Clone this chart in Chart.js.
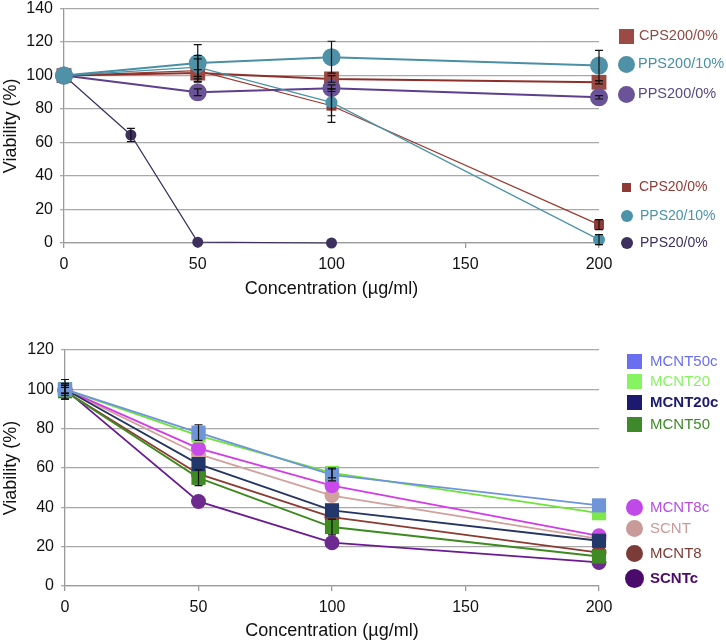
<!DOCTYPE html>
<html>
<head>
<meta charset="utf-8">
<script src="https://cdn.jsdelivr.net/npm/chart.js@4"></script>
<style>
	body { margin: 0; background: #fff; font-family: 'Liberation Sans', Arial, sans-serif; }
	#page { position: relative; width: 726px; height: 642px; overflow: hidden; }
	.panel { position: absolute; left: 0; width: 726px; }
	.leg { position: absolute; white-space: nowrap; line-height: 1; }
	.leg i { position: absolute; display: block; }
</style>
</head>
<body>
<div id="page">
	<div class="panel" style="top:-8px;height:308px"><canvas id="top"></canvas></div>
	<div class="panel" style="top:315px;height:327px"><canvas id="bottom"></canvas></div>
	<div id="legends"></div>
</div>
<script>
// --- top panel data ---
const concTop = [0, 50, 100, 200]
const concPPS20 = [0, 25, 50, 100]
const cps200_0 = [100, 101.5, 98, 96]
const pps200_10 = [100, 107.5, 111, 106]
const pps200_0 = [100, 90, 92.5, 87]
const cps20_0 = [100, 103, 82, 11]
const pps20_10 = [100, 105, 84, 2]
const pps20_0 = [100, 64.5, 0.5, 0]
const errCps200 = [0, 2, 2, 1]
const errPps200_10 = [0, 11, 9.5, 9]
const errPps200_0 = [0, 2, 2, 1]
const errCps20 = [0, 7, 10, 3]
const errPps20_10 = [0, 7, 8, 3]
const errPps20_0 = [0, 4, 0, 0]
const ticksTop = [0, 20, 40, 60, 80, 100, 120, 140]

// --- bottom panel data ---
const concBottom = [0, 50, 100, 200]
const mcnt50c = [100, 78, 56.5, 41]
const mcnt20 = [100, 76.5, 57.5, 37]
const mcnt20c = [100, 62, 38.5, 23]
const mcnt50 = [99, 55, 30, 15]
const mcnt8c = [100, 70, 51, 25.5]
const scnt = [100, 67, 46, 24]
const mcnt8 = [99, 57, 35, 17]
const scntc = [100, 43, 22, 12]
const errMcnt50c = [5, 4, 3, 0]
const errMcnt20 = [0, 0, 2.5, 0]
const errMcnt50 = [4, 4, 4, 0]
const errSmall = [2, 0, 0, 0]
const ticksBottom = [0, 20, 40, 60, 80, 100, 120]
const ticksX = [0, 50, 100, 150, 200]

const pts = (xs, ys) => ys.map((y, i) => ({ x: xs[i], y }))

// error bars drawn on top of the markers, through the chart scales
const errorBars = {
	id: 'errorBars',
	afterDatasetsDraw(chart) {
		const ctx = chart.ctx
		const xs = chart.scales.x, ys = chart.scales.y
		ctx.save()
		ctx.strokeStyle = '#111'
		ctx.lineWidth = 1.2
		chart.data.datasets.forEach(ds => {
			if (!ds.errors) return
			ds.data.forEach((p, i) => {
				const e = ds.errors[i]
				if (!e) return
				const px = xs.getPixelForValue(p.x)
				const top = ys.getPixelForValue(p.y + e)
				const bot = ys.getPixelForValue(p.y - e)
				ctx.beginPath()
				ctx.moveTo(px, top); ctx.lineTo(px, bot)
				ctx.moveTo(px - 4, top); ctx.lineTo(px + 4, top)
				ctx.moveTo(px - 4, bot); ctx.lineTo(px + 4, bot)
				ctx.stroke()
			})
		})
		ctx.restore()
	},
}

function series(label, xs, ys, line, marker, style, radius, width, errors) {
	return {
		label,
		data: pts(xs, ys),
		errors,
		showLine: true,
		clip: false,
		borderColor: line,
		backgroundColor: marker,
		pointBackgroundColor: marker,
		pointBorderColor: marker,
		pointBorderWidth: 0,
		pointStyle: style,
		pointRadius: radius,
		pointHoverRadius: radius,
		borderWidth: width,
		tension: 0,
	}
}

function makeOptions(yMax, yTicks, left, xHeight, top) {
	const font = { family: "'Liberation Sans', Arial, sans-serif", size: 16 }
	return {
		responsive: true,
		maintainAspectRatio: false,
		animation: false,
		layout: { padding: { top, right: 127, left: 0, bottom: 0 } },
		plugins: { legend: { display: false }, tooltip: { enabled: false } },
		scales: {
			x: {
				type: 'linear', min: 0, max: 200,
				afterBuildTicks: s => { s.ticks = ticksX.map(v => ({ value: v })) },
				afterFit: s => { s.height = xHeight },
				grid: { drawOnChartArea: false, drawTicks: true, tickLength: 5, color: '#9a9a9a', lineWidth: 1.3 },
				border: { color: '#9a9a9a', width: 1.3 },
				ticks: { color: '#111', font, padding: 7, maxRotation: 0 },
				title: { display: true, text: 'Concentration (µg/ml)', color: '#111', font: { ...font, size: 18 }, padding: { top: 0, bottom: 0 } },
			},
			y: {
				min: 0, max: yMax,
				afterBuildTicks: s => { s.ticks = yTicks.map(v => ({ value: v })) },
				afterFit: s => { s.width = left },
				grid: { color: '#a8a8a8', lineWidth: 1.3, tickLength: 4 },
				border: { color: '#9a9a9a', width: 1.3 },
				ticks: { color: '#111', font, padding: 7 },
				title: { display: true, text: 'Viability (%)', color: '#111', font: { ...font, size: 18 }, padding: 0 },
			},
		},
	}
}

// first dataset is drawn on top
new Chart(document.getElementById('top'), {
	type: 'scatter',
	data: {
		datasets: [
			series('PPS200/10%', concTop, pps200_10, '#4b8fa5', '#4f91a6', 'circle', 9, 2, errPps200_10),
			series('PPS20/10%', concTop, pps20_10, '#4a93a8', '#4a93a8', 'circle', 6, 1.2, errPps20_10),
			series('PPS200/0%', concTop, pps200_0, '#5d3f8e', '#6a5497', 'circle', 9, 2, errPps200_0),
			series('CPS200/0%', concTop, cps200_0, '#8e2f2a', '#994842', 'rect', 10.5, 2, errCps200),
			series('CPS20/0%', concTop, cps20_0, '#9a3a30', '#8e3a35', 'rect', 7, 1.2, errCps20),
			series('PPS20/0%', concPPS20, pps20_0, '#3d2f5e', '#3d2f5e', 'circle', 5.5, 1.2, errPps20_0),
		],
	},
	options: makeOptions(140, ticksTop, 64, 57, 7),
	plugins: [errorBars],
})

new Chart(document.getElementById('bottom'), {
	type: 'scatter',
	data: {
		datasets: [
			series('MCNT50c', concBottom, mcnt50c, '#6e94dc', '#6f95d8', 'rect', 10, 1.8, errMcnt50c),
			series('MCNT20', concBottom, mcnt20, '#6ee33a', '#7ce84a', 'rect', 10, 1.8, errMcnt20),
			series('MCNT20c', concBottom, mcnt20c, '#243562', '#22386a', 'rect', 10, 1.8, errSmall),
			series('MCNT50', concBottom, mcnt50, '#3d8a20', '#3f8a22', 'rect', 10, 1.8, errMcnt50),
			series('MCNT8c', concBottom, mcnt8c, '#d23ce6', '#c84ae8', 'circle', 7.5, 1.8, errSmall),
			series('SCNT', concBottom, scnt, '#d1a19c', '#d1a19c', 'circle', 7.5, 1.8, errSmall),
			series('MCNT8', concBottom, mcnt8, '#8b3b32', '#8b3b32', 'circle', 7.5, 1.8, errSmall),
			series('SCNTc', concBottom, scntc, '#6a1b93', '#6c2a8e', 'circle', 7.5, 1.8, errSmall),
		],
	},
	options: makeOptions(120, ticksBottom, 65, 56, 35),
	plugins: [errorBars],
})

// legends (html, placed like the original figure)
const legendItems = [
	// label, text colour, marker colour, shape, marker size, marker x, text x, y, bold, font size
	['CPS200/0%', '#8e4a45', '#9b4a45', 'sq', 15, 619, 639, 36, false, 14.5],
	['PPS200/10%', '#4a8fa3', '#4f91a6', 'ci', 17, 618, 638, 64, false, 14.5],
	['PPS200/0%', '#5a4a80', '#6a5497', 'ci', 17, 618, 638, 94, false, 14.5],
	['CPS20/0%', '#8e3a35', '#8e3a35', 'sq', 9, 622, 639, 187, false, 14],
	['PPS20/10%', '#4a93a8', '#4a93a8', 'ci', 12, 621, 640, 216, false, 14],
	['PPS20/0%', '#3d2f5e', '#3d2f5e', 'ci', 12, 621, 640, 243, false, 14],
	['MCNT50c', '#6a6ff0', '#6a6ff0', 'sq', 15, 627, 650, 361, false, 15],
	['MCNT20', '#86f460', '#86f460', 'sq', 15, 627, 650, 381, false, 15],
	['MCNT20c', '#1c1a6e', '#1c1a6e', 'sq', 15, 627, 650, 402, true, 15],
	['MCNT50', '#3e8a2a', '#3e8a2a', 'sq', 15, 627, 650, 424, false, 15],
	['MCNT8c', '#b54de8', '#c04ae8', 'ci', 17, 626, 650, 507, false, 15],
	['SCNT', '#c89a98', '#c89a98', 'ci', 17, 626, 650, 528, false, 15],
	['MCNT8', '#7b3c37', '#7b3c37', 'ci', 17, 626, 650, 553, false, 15],
	['SCNTc', '#4a0a6b', '#4a0a6b', 'ci', 19, 625, 650, 578, true, 15],
]
const legends = document.getElementById('legends')
legendItems.forEach(([label, color, mcolor, shape, size, mx, tx, y, bold, fs]) => {
	const m = document.createElement('i')
	m.className = 'leg'
	m.style.left = mx + 'px'
	m.style.top = (y - size / 2) + 'px'
	m.style.width = size + 'px'
	m.style.height = size + 'px'
	m.style.background = mcolor
	if (shape === 'ci') m.style.borderRadius = '50%'
	legends.appendChild(m)
	const t = document.createElement('span')
	t.className = 'leg'
	t.textContent = label
	t.style.left = tx + 'px'
	t.style.top = (y - fs * 0.55) + 'px'
	t.style.fontSize = fs + 'px'
	t.style.color = color
	if (bold) t.style.fontWeight = 'bold'
	legends.appendChild(t)
})
</script>
</body>
</html>
